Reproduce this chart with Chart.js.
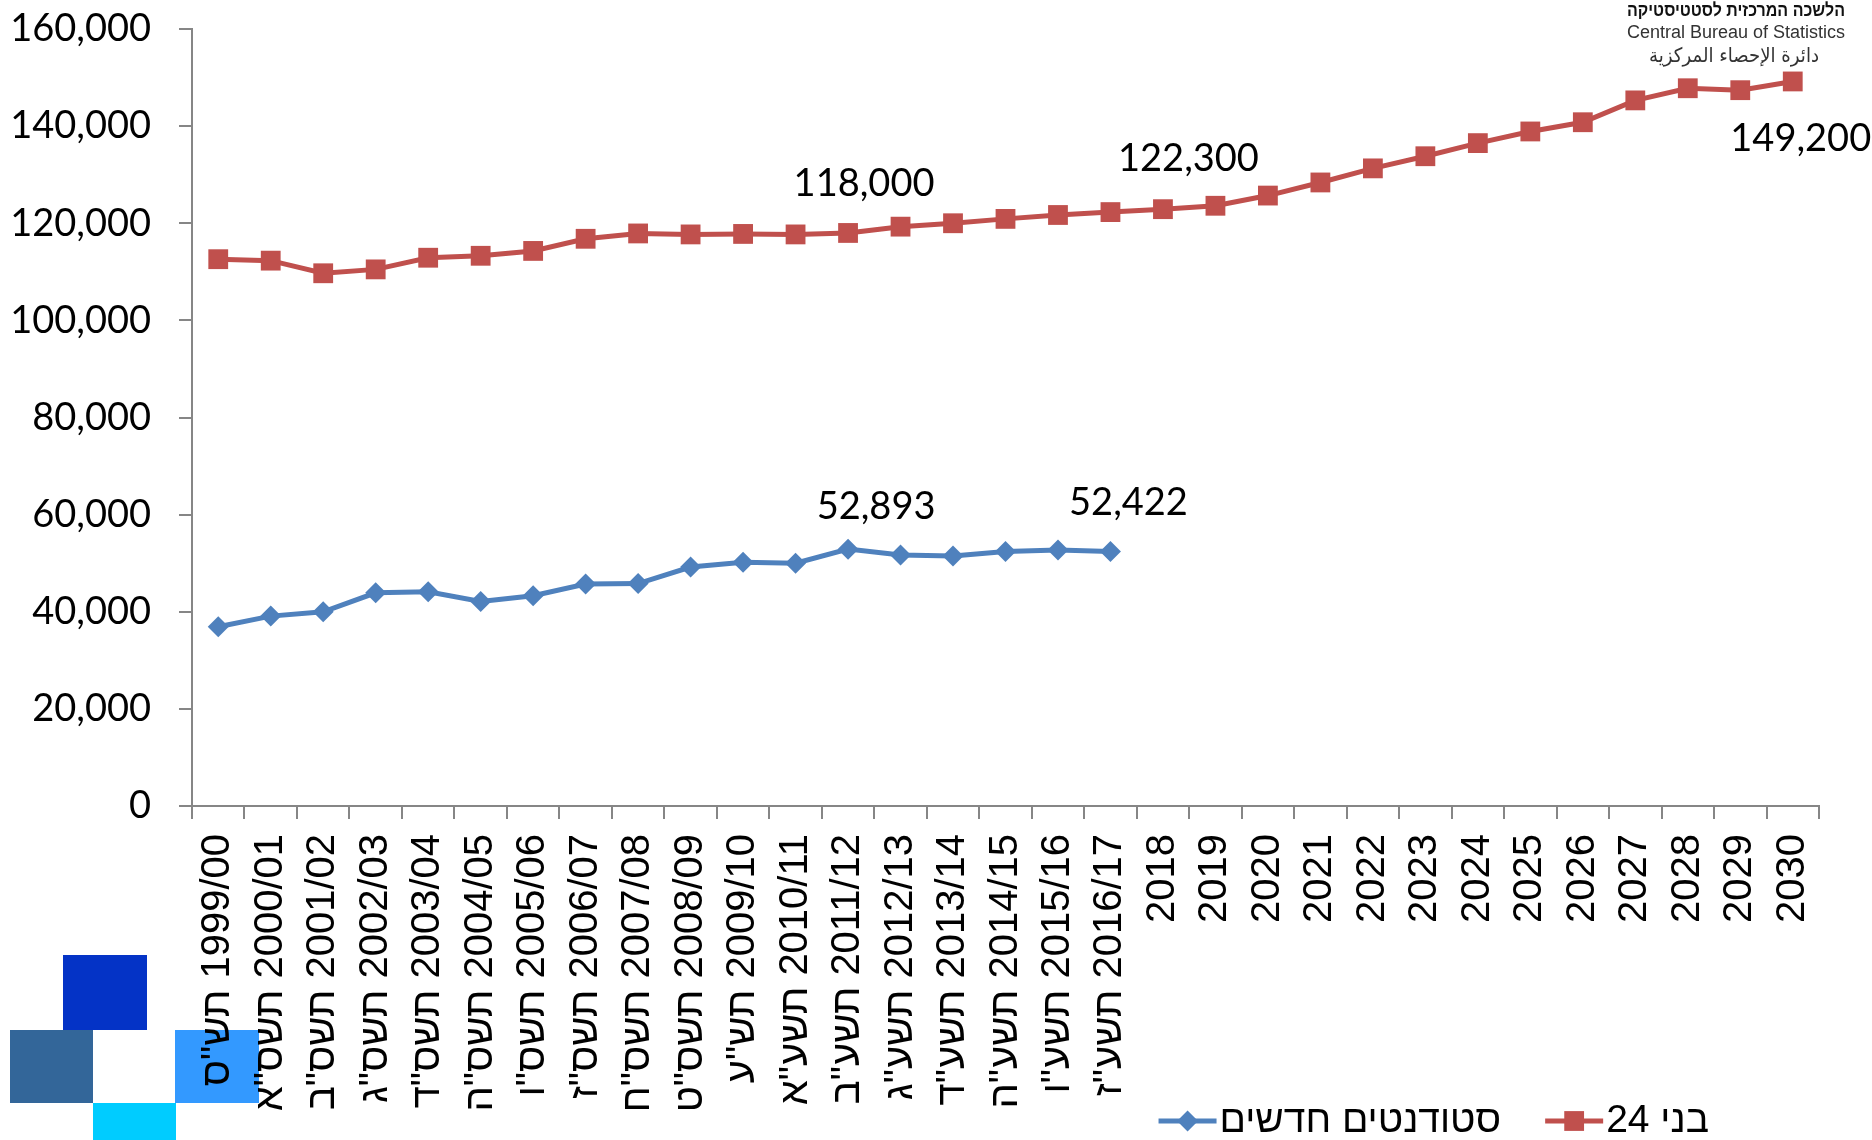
<!DOCTYPE html>
<html lang="he">
<head>
<meta charset="utf-8">
<title>בני 24 וסטודנטים חדשים</title>
<script src="https://cdn.jsdelivr.net/npm/chart.js@4.4.1/dist/chart.umd.min.js"></script>
<style>
  html, body { margin: 0; padding: 0; background: #fff; }
  #wrap { width: 1872px; height: 1140px; }
  canvas { direction: rtl; }
</style>
</head>
<body>
<div id="wrap"><canvas id="chart" width="1872" height="1140" dir="rtl"></canvas></div>
<script>
// school years, with the Hebrew year where there is one
const years = ["1999/00", "2000/01", "2001/02", "2002/03", "2003/04", "2004/05", "2005/06",
  "2006/07", "2007/08", "2008/09", "2009/10", "2010/11", "2011/12", "2012/13", "2013/14",
  "2014/15", "2015/16", "2016/17", "2018", "2019", "2020", "2021", "2022", "2023", "2024",
  "2025", "2026", "2027", "2028", "2029", "2030"];
const hebYears = ['תש"ס', 'תשס"א', 'תשס"ב', 'תשס"ג', 'תשס"ד', 'תשס"ה', 'תשס"ו', 'תשס"ז',
  'תשס"ח', 'תשס"ט', 'תש"ע', 'תשע"א', 'תשע"ב', 'תשע"ג', 'תשע"ד', 'תשע"ה', 'תשע"ו', 'תשע"ז'];

// population aged 24 (incl. projection to 2030)
const age24 = [112600, 112300, 109700, 110500, 112900, 113300, 114300, 116800, 117900, 117700,
  117800, 117700, 118000, 119300, 120000, 120900, 121700, 122300, 122900, 123600, 125700,
  128400, 131300, 133800, 136500, 138900, 140800, 145300, 147800, 147400, 149200];
// new first-degree students
const newStudents = [36900, 39100, 40000, 43900, 44100, 42100, 43300, 45700, 45800, 49200,
  50200, 50000, 52893, 51700, 51500, 52400, 52700, 52422];

const seriesNames = ["בני 24", "סטודנטים חדשים"];
const yMin = 0, yMax = 160000, yStep = 20000;

// which points get a value label
const labelledAge24 = [12, 17, 30];
const labelledStudents = [12, 17];

const logoLines = ["הלשכה המרכזית לסטטיסטיקה", "Central Bureau of Statistics", "دائرة الإحصاء المركزية"];

const RED = "#C0504D";
const BLUE = "#4F81BD";
const AXIS = "#868686";

const labels = years.map((y, i) => hebYears[i] ? `${y} ${hebYears[i]}` : y);
const fmtNum = (n) => Number(n).toLocaleString("en-US");

// offsets of the value labels from their points
const labelOffsets = [
  { 12: [16, -49], 17: [78, -53], 30: [8, 57] },
  { 12: [28, -42], 17: [18, -49] }
];

const valueLabels = {
  id: "valueLabels",
  afterDatasetsDraw(chart) {
    const ctx = chart.ctx;
    const picks = [labelledAge24, labelledStudents];
    ctx.save();
    ctx.font = '38px Lato, "Open Sans", sans-serif';
    ctx.fillStyle = "#000";
    ctx.textAlign = "center";
    ctx.textBaseline = "middle";
    picks.forEach((idx, s) => {
      const meta = chart.getDatasetMeta(s);
      idx.forEach(i => {
        const pt = meta.data[i];
        const [dx, dy] = labelOffsets[s][i];
        ctx.fillText(fmtNum(chart.data.datasets[s].data[i]), pt.x + dx, pt.y + dy);
      });
    });
    ctx.restore();
  }
};

// coloured squares in the lower-left corner, behind the axis labels
const cornerBlocks = {
  id: "cornerBlocks",
  beforeDraw(chart) {
    const ctx = chart.ctx;
    ctx.save();
    ctx.fillStyle = "#fff";
    ctx.fillRect(0, 0, chart.width, chart.height);
    ctx.fillStyle = "#0433C6"; ctx.fillRect(63, 955, 84, 75);
    ctx.fillStyle = "#336699"; ctx.fillRect(10, 1030, 83, 73);
    ctx.fillStyle = "#3399FF"; ctx.fillRect(175, 1030, 84, 73);
    ctx.fillStyle = "#00CCFF"; ctx.fillRect(93, 1103, 83, 37);
    ctx.restore();
  }
};

const logo = {
  id: "logo",
  afterDraw(chart) {
    const ctx = chart.ctx;
    ctx.save();
    ctx.textAlign = "center";
    ctx.textBaseline = "middle";
    ctx.fillStyle = "#111";
    ctx.font = 'bold 18px "Liberation Sans", Arial, sans-serif';
    ctx.fillText(logoLines[0], 1736, 11, 218);
    ctx.fillStyle = "#333";
    ctx.font = '18px "Liberation Sans", Arial, sans-serif';
    ctx.fillText(logoLines[1], 1736, 33, 218);
    ctx.font = '20px "DejaVu Sans", sans-serif';
    ctx.fillText(logoLines[2], 1734, 57, 170);
    ctx.restore();
  }
};

// legend along the bottom, laid out right to left
const bottomLegend = {
  id: "bottomLegend",
  afterDraw(chart) {
    const ctx = chart.ctx;
    const y = 1121;
    let x = 1709;
    ctx.save();
    ctx.font = '39px "Liberation Sans", Arial, sans-serif';
    ctx.textBaseline = "middle";
    ctx.textAlign = "right";
    chart.data.datasets.forEach(ds => {
      const w = ctx.measureText(ds.label).width;
      ctx.fillStyle = "#000";
      ctx.fillText(ds.label, x, y);
      const x1 = x - w - 3;
      const x0 = x1 - 58;
      ctx.strokeStyle = ds.borderColor;
      ctx.lineWidth = 5;
      ctx.beginPath();
      ctx.moveTo(x0, y);
      ctx.lineTo(x1, y);
      ctx.stroke();
      ctx.fillStyle = ds.backgroundColor;
      Chart.helpers.drawPoint(ctx, {
        pointStyle: ds.pointStyle, radius: ds.pointRadius, rotation: 0, borderWidth: 0
      }, (x0 + x1) / 2, y);
      x = x0 - 44;
    });
    ctx.restore();
  }
};

new Chart(document.getElementById("chart"), {
  type: "line",
  data: {
    labels: labels,
    datasets: [
      {
        label: seriesNames[0], data: age24,
        borderColor: RED, backgroundColor: RED, borderWidth: 5,
        pointStyle: "rect", pointRadius: 14, pointBorderWidth: 0, tension: 0
      },
      {
        label: seriesNames[1], data: newStudents,
        borderColor: BLUE, backgroundColor: BLUE, borderWidth: 5,
        pointStyle: "rectRot", pointRadius: 10.5, pointBorderWidth: 0, tension: 0
      }
    ]
  },
  options: {
    responsive: false,
    animation: false,
    locale: "en-US",
    layout: { padding: { top: 29, right: 53, bottom: 0, left: 0 } },
    plugins: {
      legend: { display: false },
      tooltip: { enabled: false }
    },
    scales: {
      x: {
        offset: true,
        ticks: {
          autoSkip: false, minRotation: 90, maxRotation: 90, padding: 15, color: "#000",
          font: { family: '"Liberation Sans", Arial, sans-serif', size: 40 }
        },
        grid: { offset: true, drawOnChartArea: false, tickLength: 13, color: AXIS, lineWidth: 2 },
        border: { color: AXIS, width: 2 },
        afterFit(scale) {
          scale.height = 334;
          scale.paddingTop = scale.paddingBottom = 0;
          scale.paddingLeft = scale.paddingRight = 0;
        }
      },
      y: {
        min: yMin, max: yMax,
        ticks: {
          stepSize: yStep, padding: 28, color: "#000",
          font: { family: 'Lato, "Open Sans", sans-serif', size: 38 }
        },
        grid: { drawOnChartArea: false, tickLength: 13, color: AXIS, lineWidth: 2 },
        border: { color: AXIS, width: 2 },
        afterFit(scale) {
          scale.width = 192;
          scale.paddingTop = scale.paddingBottom = 0;
        }
      }
    }
  },
  plugins: [cornerBlocks, valueLabels, logo, bottomLegend]
});
</script>
</body>
</html>
